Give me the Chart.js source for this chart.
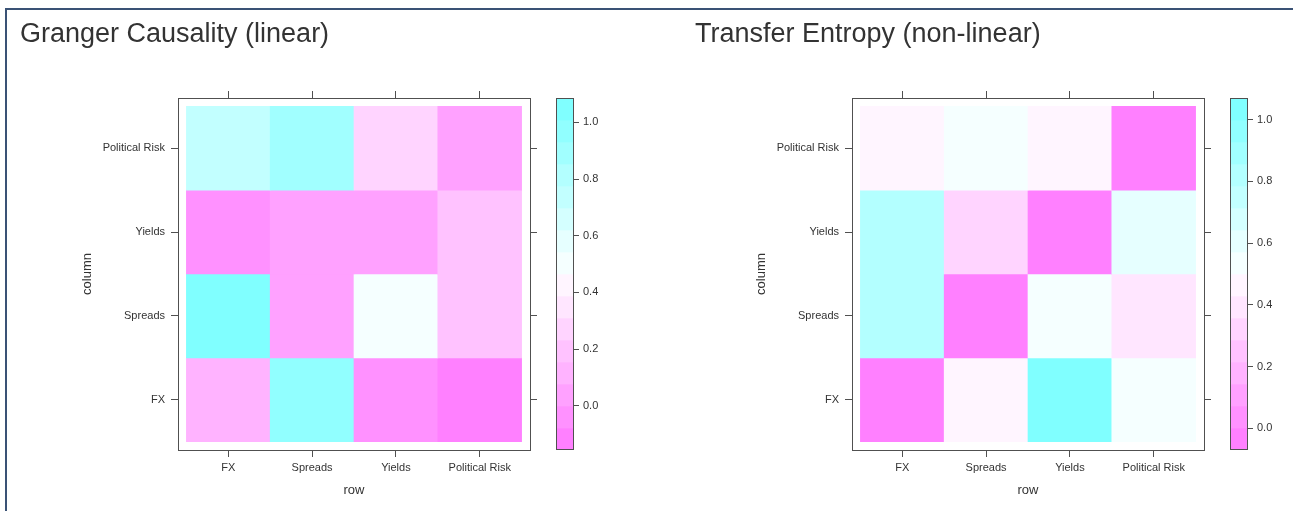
<!DOCTYPE html>
<html>
<head>
<meta charset="utf-8">
<script src="https://cdn.jsdelivr.net/npm/chart.js@4.4.1/dist/chart.umd.min.js"></script>
<style>
  html, body { margin: 0; padding: 0; background: #ffffff; }
  body { width: 1293px; height: 511px; overflow: hidden; position: relative;
         font-family: 'Liberation Sans', Arial, sans-serif; }
  .frame { position: absolute; left: 5px; top: 8px; width: 1400px; height: 600px;
           border-left: 2px solid #3a5275; border-top: 2px solid #3a5275; }
  .title { position: absolute; top: 20px; font-size: 27px; line-height: 27px; color: #333333;
           white-space: nowrap; z-index: 2; }
  canvas { position: absolute; top: 0; }
</style>
</head>
<body>
<div class="frame"></div>
<canvas id="heat1" width="540" height="511" style="left:0px"></canvas>
<canvas id="bar1" width="60" height="511" style="left:556px"></canvas>
<canvas id="heat2" width="540" height="511" style="left:674px"></canvas>
<canvas id="bar2" width="60" height="511" style="left:1230px"></canvas>
<div class="title" style="left:20px">Granger Causality (linear)</div>
<div class="title" style="left:695px">Transfer Entropy (non-linear)</div>

<script>
// ---------- DATA ----------
// x axis ("row") categories and y axis ("column") categories
const rowLabels = ['FX', 'Spreads', 'Yields', 'Political Risk'];
const columnLabels = ['FX', 'Spreads', 'Yields', 'Political Risk'];

// Granger Causality (linear): one array per "column" level, values across rows FX..Political Risk
const grangerColFX      = [0.12, 0.95, -0.03, -0.08];
const grangerColSpreads = [1.01, 0.05, 0.50, 0.19];
const grangerColYields  = [-0.04, 0.03, 0.03, 0.20];
const grangerColPolRisk = [0.73, 0.88, 0.27, 0.04];

// Transfer Entropy (non-linear)
const teColFX      = [0.00, 0.47, 1.00, 0.53];
const teColSpreads = [0.82, 0.00, 0.53, 0.40];
const teColYields  = [0.82, 0.32, 0.00, 0.60];
const teColPolRisk = [0.47, 0.53, 0.46, 0.00];

// colour key tick labels
const colorKeyTicks = [0.0, 0.2, 0.4, 0.6, 0.8, 1.0];

// ---------- STYLE ----------
const AXIS_COL = '#505050';
const TEXT_COL = '#333333';
const FONT = "'Liberation Sans', Arial, sans-serif";
const N_BANDS = 16;

Chart.defaults.font.family = FONT;
Chart.defaults.animation = false;

// lattice-like regions palette: rev(cm.colors(100)), picked for 16 bands
function bandColor(k) {
  const r = Math.round(1 + k * 99 / (N_BANDS - 1));
  let R, G, B;
  if (r <= 50) { const s = (51 - r) / 100; R = 255; G = Math.round(255 * (1 - s)); B = 255; }
  else { const s = (r - 50) / 100; R = Math.round(255 * (1 - s)); G = 255; B = 255; }
  return `rgb(${R},${G},${B})`;
}

function levelInfo(series) {
  const all = series.flat();
  const mn = Math.min(...all), mx = Math.max(...all);
  const ext = 0.07 * (mx - mn);
  const lo = mn - ext, hi = mx + ext;
  const at = [];
  for (let k = 0; k <= N_BANDS; k++) at.push(lo + (hi - lo) * k / N_BANDS);
  const colorOf = v => {
    let k = 0;
    while (k < N_BANDS - 1 && v > at[k + 1]) k++;
    return bandColor(k);
  };
  return { lo, hi, at, colorOf };
}

const setTicks = s => { s.ticks = rowLabels.map((_, i) => ({ value: i })); };
const setYTicks = s => { s.ticks = columnLabels.map((_, i) => ({ value: i })); };

function tickGrid(len) {
  return { drawOnChartArea: false, drawTicks: true, tickLength: len, color: AXIS_COL, lineWidth: 1, offset: false };
}
const borderOpt = { display: true, color: AXIS_COL, width: 1 };

function makeHeatmap(id, series, info) {
  const pts = [], cols = [];
  series.forEach((vals, j) => {
    vals.forEach((v, i) => {
      pts.push({ x: i, y: [j - 0.5, j + 0.5] });
      cols.push(info.colorOf(v));
    });
  });
  const n = rowLabels.length;
  const m = columnLabels.length;
  new Chart(document.getElementById(id), {
    type: 'bar',
    data: {
      datasets: [{
        data: pts, backgroundColor: cols, borderWidth: 0,
        barPercentage: 1, categoryPercentage: 1
      }]
    },
    options: {
      responsive: false,
      animation: false,
      layout: { padding: 0 },
      plugins: { legend: { display: false }, tooltip: { enabled: false } },
      events: [],
      scales: {
        x: {
          type: 'linear', position: 'bottom', min: -0.6, max: n - 0.4, offset: false,
          afterBuildTicks: setTicks,
          afterFit: s => { s.height = 61; },
          grid: tickGrid(7), border: borderOpt,
          ticks: { callback: v => rowLabels[v], padding: 4, color: TEXT_COL, font: { size: 11 },
                   maxRotation: 0, autoSkip: false },
          title: { display: true, text: 'row', color: TEXT_COL, font: { size: 13 },
                   padding: { top: 0, bottom: 13 } }
        },
        x2: {
          type: 'linear', axis: 'x', position: 'top', min: -0.6, max: n - 0.4, offset: false,
          afterBuildTicks: setTicks,
          afterFit: s => { s.height = 98; },
          grid: tickGrid(7), border: borderOpt,
          ticks: { display: false }
        },
        y: {
          type: 'linear', position: 'left', min: -0.6, max: m - 0.4,
          afterBuildTicks: setYTicks,
          afterFit: s => { s.width = 178; },
          grid: tickGrid(7), border: borderOpt,
          ticks: { callback: v => columnLabels[v], padding: 6, color: TEXT_COL, font: { size: 11 } },
          title: { display: true, text: 'column', color: TEXT_COL, font: { size: 13 },
                   padding: { top: 80, bottom: 0 } }
        },
        y2: {
          type: 'linear', axis: 'y', position: 'right', min: -0.6, max: m - 0.4,
          afterBuildTicks: setYTicks,
          afterFit: s => { s.width = 10; },
          grid: tickGrid(7), border: borderOpt,
          ticks: { display: false }
        }
      }
    }
  });
}

const boxPlugin = {
  id: 'keyBox',
  afterDraw(chart) {
    const { ctx, chartArea: a } = chart;
    ctx.save();
    ctx.strokeStyle = AXIS_COL;
    ctx.lineWidth = 1;
    ctx.strokeRect(Math.round(a.left) + 0.5, Math.round(a.top) + 0.5,
                   Math.round(a.right - a.left) - 1, Math.round(a.bottom - a.top) - 1);
    ctx.restore();
  }
};

function makeKey(id, info) {
  const pts = [], cols = [];
  for (let k = 0; k < N_BANDS; k++) {
    pts.push({ x: 'key', y: [info.at[k], info.at[k + 1]] });
    cols.push(bandColor(k));
  }
  new Chart(document.getElementById(id), {
    type: 'bar',
    data: { labels: ['key'], datasets: [{ data: pts, backgroundColor: cols, borderWidth: 0,
             barPercentage: 1, categoryPercentage: 1 }] },
    options: {
      responsive: false, animation: false, events: [],
      layout: { padding: { top: 98, bottom: 61, left: 0, right: 0 } },
      plugins: { legend: { display: false }, tooltip: { enabled: false } },
      scales: {
        x: { display: false, offset: true },
        y: {
          type: 'linear', position: 'right', min: info.lo, max: info.hi,
          afterBuildTicks: s => { s.ticks = colorKeyTicks.map(v => ({ value: v })); },
          afterFit: s => { s.width = 42; },
          grid: tickGrid(5), border: { display: false },
          ticks: { callback: v => Number(v).toFixed(1), padding: 4, color: TEXT_COL, font: { size: 11 } }
        }
      }
    },
    plugins: [boxPlugin]
  });
}

const granger = [grangerColFX, grangerColSpreads, grangerColYields, grangerColPolRisk];
const te = [teColFX, teColSpreads, teColYields, teColPolRisk];
const gInfo = levelInfo(granger);
const tInfo = levelInfo(te);

makeHeatmap('heat1', granger, gInfo);
makeKey('bar1', gInfo);
makeHeatmap('heat2', te, tInfo);
makeKey('bar2', tInfo);
</script>
</body>
</html>
